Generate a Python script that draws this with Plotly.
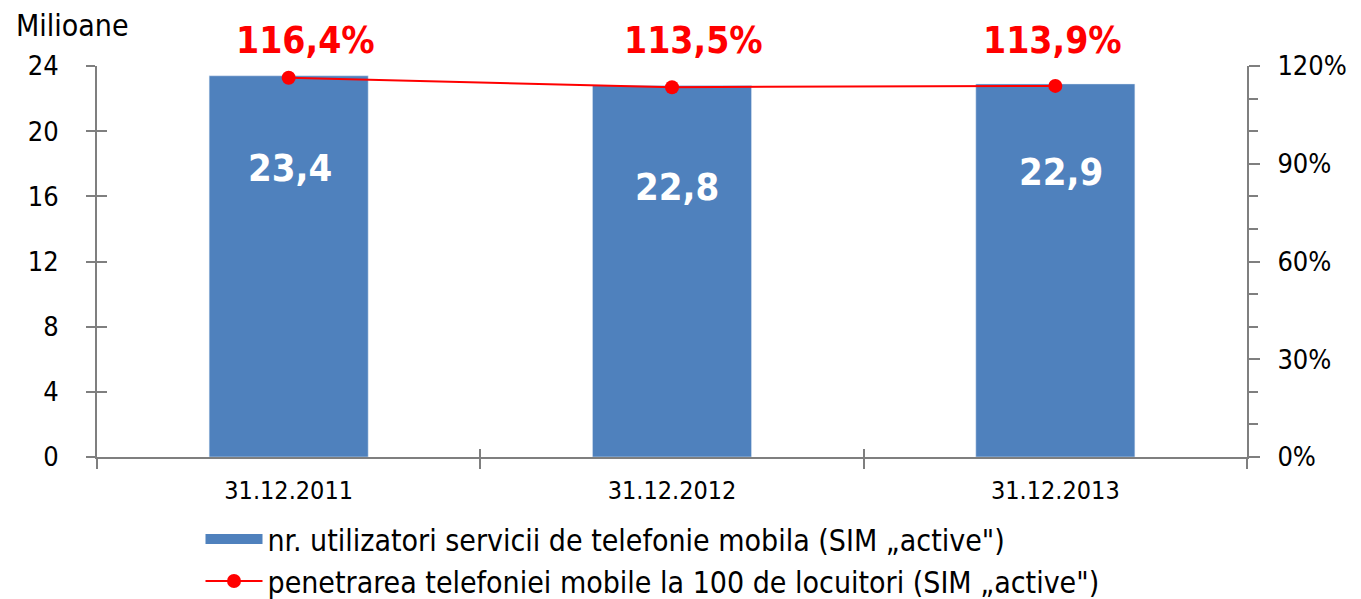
import plotly.graph_objects as go

categories = ["31.12.2011", "31.12.2012", "31.12.2013"]
users_mil = [23.4, 22.8, 22.9]
penetration = [116.4, 113.5, 113.9]
bar_labels = ["23,4", "22,8", "22,9"]
pen_labels = ["116,4%", "113,5%", "113,9%"]
bar_name = "nr. utilizatori servicii de telefonie mobila (SIM \u201eactive\")"
line_name = "penetrarea telefoniei mobile la 100 de locuitori (SIM \u201eactive\")"

# label placement offsets (pixels), as placed in the original chart
bar_label_dx = [1, 5, 6]
bar_label_dy = [-92, -101, -88]
pen_label_dx = [17, 21, -3]

FONT = "'DejaVu Sans Condensed', 'DejaVu Sans', sans-serif"
BLUE = "#4F81BD"
RED = "#FF0000"
AXC = "#7F7F7F"

fig = go.Figure()
fig.add_trace(go.Bar(x=categories, y=users_mil, marker_color=BLUE, width=0.415,
                     showlegend=False, hoverinfo="skip"))
fig.add_trace(go.Scatter(x=[None], y=[None], mode="lines", name=bar_name,
                         line=dict(color=BLUE, width=20)))
fig.add_trace(go.Scatter(x=categories, y=penetration, yaxis="y2", name=line_name,
                         mode="lines+markers", line=dict(color=RED, width=2),
                         marker=dict(color=RED, size=14)))
# helper trace so the overlay axes (crossing tick marks) get drawn
fig.add_trace(go.Scatter(x=[None], y=[None], xaxis="x2", yaxis="y3", mode="markers",
                         showlegend=False, hoverinfo="skip"))

for c, v, t, dx, dy in zip(categories, users_mil, bar_labels, bar_label_dx, bar_label_dy):
    fig.add_annotation(x=c, y=v, xref="x", yref="y", text=f"<b>{t}</b>", showarrow=False,
                       xshift=dx, yshift=dy, yanchor="middle",
                       font=dict(family=FONT, size=38, color="white"))
for c, t, dx in zip(categories, pen_labels, pen_label_dx):
    fig.add_annotation(x=c, y=1, xref="x", yref="paper", text=f"<b>{t}</b>", showarrow=False,
                       xshift=dx, yshift=26, yanchor="middle",
                       font=dict(family=FONT, size=37, color=RED))

fig.add_annotation(x=0, y=1, xref="paper", yref="paper", xanchor="left", yanchor="middle",
                   text="Milioane", showarrow=False, xshift=-83, yshift=41,
                   font=dict(family=FONT, size=30, color="#000"))

x_tick_font = dict(family=FONT, size=25, color="#000")
y_tick_font = dict(family=FONT, size=27, color="#000")

fig.update_layout(
    width=1353, height=591,
    margin=dict(l=89, r=114, t=58, b=142),
    paper_bgcolor="white", plot_bgcolor="white",
    font=dict(family=FONT, size=25, color="#000"),
    bargap=0.585,
    xaxis=dict(type="category", showline=True, linecolor=AXC, linewidth=2,
               ticks="outside", ticklen=10, tickcolor=AXC, tickwidth=2,
               tickson="boundaries", showgrid=False, ticklabelstandoff=10,
               tickfont=x_tick_font, automargin=False),
    xaxis2=dict(overlaying="x", range=[-0.5, 2.5], tickvals=[-0.5, 0.5, 1.5, 2.5],
                ticks="inside", ticklen=8, tickcolor=AXC, tickwidth=2,
                showticklabels=False, showgrid=False, zeroline=False, side="bottom",
                showline=False, automargin=False),
    yaxis=dict(range=[0, 24], dtick=4, showline=True, linecolor=AXC, linewidth=2,
               ticks="outside", ticklen=9, tickcolor=AXC, tickwidth=2,
               showgrid=False, zeroline=False, ticklabelstandoff=22,
               tickfont=y_tick_font, automargin=False),
    yaxis3=dict(overlaying="y", range=[0, 24], dtick=4, ticks="inside", ticklen=10,
                tickcolor=AXC, tickwidth=2, showticklabels=False, showgrid=False,
                zeroline=False, side="left", showline=False, automargin=False),
    yaxis2=dict(range=[0, 120], dtick=30, overlaying="y", side="right",
                showline=True, linecolor=AXC, linewidth=2,
                ticks="outside", ticklen=11, tickcolor=AXC, tickwidth=2,
                ticksuffix="%", showgrid=False, zeroline=False, ticklabelstandoff=12,
                minor=dict(dtick=10, ticks="outside", ticklen=9, tickcolor=AXC, tickwidth=2),
                tickfont=y_tick_font, automargin=False),
    legend=dict(orientation="v", x=0.090, xanchor="left", yref="container", y=0.1455,
                yanchor="top", font=dict(family=FONT, size=30), itemwidth=57,
                tracegroupgap=0, bgcolor="rgba(0,0,0,0)"),
)

fig.write_html("out.html")
